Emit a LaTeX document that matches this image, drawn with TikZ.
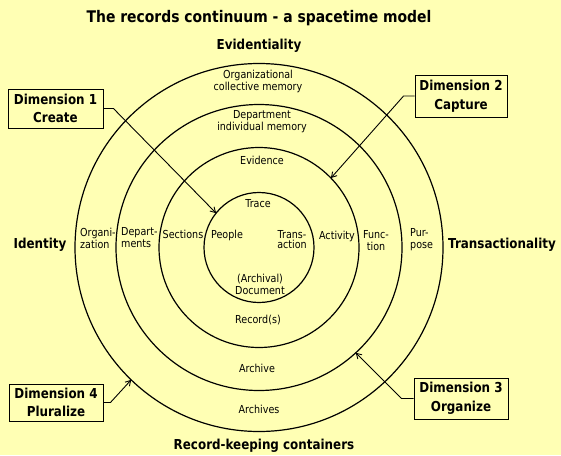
\documentclass[tikz,border=0pt]{standalone}
\usepackage{fontspec}
\setmainfont[FakeStretch=0.87]{DejaVu Sans}
\usetikzlibrary{arrows.meta,calc}
\definecolor{bg}{RGB}{255,255,180}
\tikzset{
  ring/.style={line width=1.2pt},
  small/.style={inner sep=0pt,font=\fontsize{11}{12}\selectfont},
  big/.style={inner sep=0pt,font=\bfseries\fontsize{13.7}{18}\selectfont},
  dimbox/.style={draw,line width=0.9pt,inner sep=0pt,align=center,font=\bfseries\fontsize{13.7}{18.5}\selectfont},
  conn/.style={line width=0.9pt,-{Straight Barb[length=5pt,width=6pt]}}
}
\begin{document}
\begin{tikzpicture}[x=1pt,y=-1pt]
\fill[bg] (0,0) rectangle (561,455);
\useasboundingbox (0,0) rectangle (561,455);
\coordinate (c) at (259,247.5);
\draw[ring] (c) circle[radius=55];
\draw[ring] (c) circle[radius=100];
\draw[ring] (c) circle[radius=143];
\draw[ring] (c) circle[radius=184];
% arrow tips on circles
\coordinate (t1) at ($(c)+(-141.3:55)$);
\coordinate (t2) at ($(c)+(-44:100)$);
\coordinate (t3) at ($(c)+(47.4:143)$);
\coordinate (t4) at ($(c)+(134:184)$);
% title and big labels
\node[inner sep=0pt,font=\bfseries\fontsize{16}{18}\selectfont] (title) at (259,18) {The records continuum - a spacetime model};
\node[big] (evid) at (259,46) {Evidentiality};
\node[big] (ident) at (40,245) {Identity};
\node[big] (trans) at (502,245) {Transactionality};
\node[big] (rkc) at (264,446) {Record-keeping containers};
% ring texts
\node[small,align=center] (org) at (258,81) {Organizational\\collective memory};
\node[small,align=center] (dep) at (262,121.5) {Department\\individual memory};
\node[small] (evi) at (262,160) {Evidence};
\node[small] (tra) at (258,204) {Trace};
\node[small] (peo) at (227,235) {People};
\node[small,align=center,font=\fontsize{11}{9.5}\selectfont] (trn) at (292,239.5) {Trans-\\action};
\node[small] (act) at (337,236) {Activity};
\node[small,align=center] (arcd) at (260,284) {(Archival)\\Document};
\node[small] (rec) at (258,320) {Record(s)};
\node[small] (ach) at (257,368) {Archive};
\node[small] (achs) at (259,409) {Archives};
\node[small,align=left,anchor=west] (orgz) at (80,238) {Organi-\\zation};
\node[small,align=left,anchor=west] (dpts) at (121,238) {Depart-\\ments};
\node[small] (sec) at (183,234) {Sections};
\node[small,align=center] (fun) at (376,240.5) {Func-\\tion};
\node[small,align=left,anchor=west] (pur) at (410,240) {Pur-\\pose};
% dimension boxes
\node[dimbox,minimum width=95pt,minimum height=39pt] (d1) at (55.5,108.5) {Dimension 1\\Create};
\node[dimbox,minimum width=92pt,minimum height=42pt] (d2) at (461,96) {Dimension 2\\Capture};
\node[dimbox,minimum width=94pt,minimum height=41pt] (d3) at (461,398.5) {Dimension 3\\Organize};
\node[dimbox,minimum width=94pt,minimum height=37pt] (d4) at (56,402.5) {Dimension 4\\Pluralize};
% connectors
\draw[conn] (d1.east) -- ++(10,0) -- (t1);
\draw[conn] (d2.west) -- ++(-11,0) -- (t2);
\draw[conn] (d3.west) -- ++(-12,0) -- (t3);
\draw[conn] (d4.east) -- ++(7,0) -- (t4);
\end{tikzpicture}
\end{document}
